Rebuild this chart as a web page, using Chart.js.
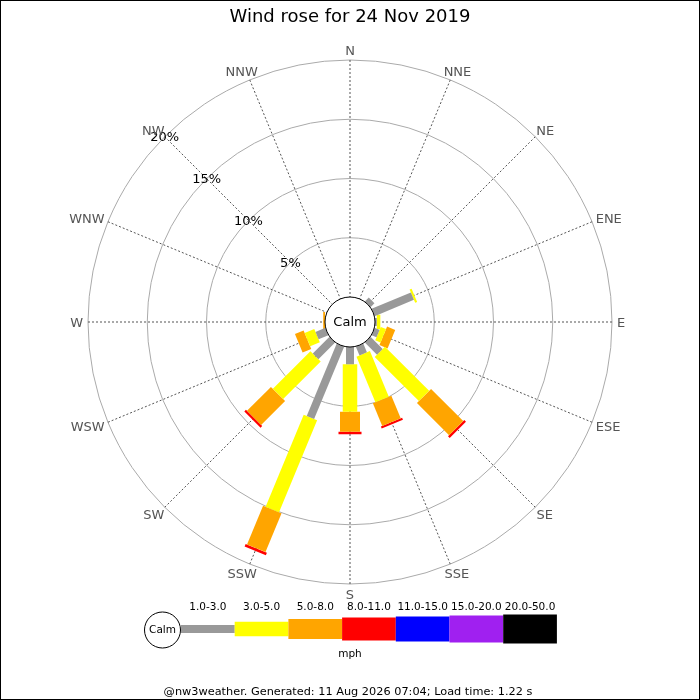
<!DOCTYPE html>
<html>
<head>
<meta charset="utf-8">
<script src="https://cdn.jsdelivr.net/npm/chart.js@4.4.1/dist/chart.umd.min.js"></script>
<style>
  html, body { margin: 0; padding: 0; background: #fff; }
  #wrap { width: 700px; height: 700px; }
</style>
</head>
<body>
<div id="wrap"><canvas id="roseChart" width="700" height="700"></canvas></div>
<script>
// directions clockwise from north
var directions = ['N','NNE','NE','ENE','E','ESE','SE','SSE','S','SSW','SW','WSW','W','WNW','NW','NNW'];
var speedBands = ['1.0-3.0','3.0-5.0','5.0-8.0','8.0-11.0','11.0-15.0','15.0-20.0','20.0-50.0'];

// % of time per direction, one array per speed band (mph)
var band1to3   = [0, 0, 0.47, 3.59, 0.15, 0.45, 1.45, 0.80, 1.46, 6.62, 2.00, 0.90, 0, 0, 0, 0];
var band3to5   = [0, 0, 0, 0.18, 0.30, 0.48, 5.27, 4.17, 4.00, 8.40, 4.48, 0.88, 0, 0, 0, 0];
var band5to8   = [0, 0, 0, 0, 0, 0.74, 3.84, 2.07, 1.69, 3.54, 2.86, 0.79, 0.15, 0, 0, 0];
var band8to11  = [0, 0, 0, 0, 0, 0, 0.20, 0.18, 0.21, 0.23, 0.19, 0, 0, 0, 0, 0];
var band11to15 = [0, 0, 0, 0, 0, 0, 0, 0, 0, 0, 0, 0, 0, 0, 0, 0];
var band15to20 = [0, 0, 0, 0, 0, 0, 0, 0, 0, 0, 0, 0, 0, 0, 0, 0];
var band20to50 = [0, 0, 0, 0, 0, 0, 0, 0, 0, 0, 0, 0, 0, 0, 0, 0];

var ringTicks  = [5, 10, 15, 20];
var ringLabels = ['5%', '10%', '15%', '20%'];

var bands      = [band1to3, band3to5, band5to8, band8to11, band11to15, band15to20, band20to50];
var bandColors = ['#999999', '#ffff00', '#ffa500', '#ff0000', '#0000ff', '#a020f0', '#000000'];
var bandWidths = [8, 14.5, 20, 23, 25, 27, 29];

var FONT = '"DejaVu Sans", sans-serif';
var HOLE = 25 / 11.85;          // calm circle, in % units
var RMAX = ringTicks[ringTicks.length - 1] + HOLE;

function polar(r, i) {
  var a = i * Math.PI / 8;
  return { x: r * Math.sin(a), y: r * Math.cos(a) };
}

var datasets = [];
var base = directions.map(function() { return HOLE; });
bands.forEach(function(vals, b) {
  vals.forEach(function(v, i) {
    if (v <= 0) return;
    var r0 = base[i], r1 = base[i] + v;
    base[i] = r1;
    datasets.push({
      label: speedBands[b] + ' ' + directions[i],
      data: [polar(r0, i), polar(r1, i)],
      showLine: true,
      borderColor: bandColors[b],
      borderWidth: bandWidths[b],
      borderCapStyle: 'butt',
      pointRadius: 0,
      pointHoverRadius: 0,
      tension: 0,
      clip: false
    });
  });
});

var roseGrid = {
  id: 'roseGrid',
  beforeDatasetsDraw: function(chart) {
    var ctx = chart.ctx, xs = chart.scales.x, ys = chart.scales.y;
    var cx = xs.getPixelForValue(0), cy = ys.getPixelForValue(0);
    var k = xs.getPixelForValue(1) - cx;
    ctx.save();
    ctx.strokeStyle = '#aaaaaa';
    ctx.lineWidth = 1;
    ringTicks.forEach(function(t) {
      ctx.beginPath();
      ctx.arc(cx, cy, (t + HOLE) * k, 0, Math.PI * 2);
      ctx.stroke();
    });
    ctx.strokeStyle = '#555555';
    ctx.setLineDash([2, 2]);
    directions.forEach(function(d, i) {
      var p = polar(RMAX, i);
      ctx.beginPath();
      ctx.moveTo(cx, cy);
      ctx.lineTo(xs.getPixelForValue(p.x), ys.getPixelForValue(p.y));
      ctx.stroke();
    });
    ctx.restore();
  },
  afterDatasetsDraw: function(chart) {
    var ctx = chart.ctx, xs = chart.scales.x, ys = chart.scales.y;
    var cx = xs.getPixelForValue(0), cy = ys.getPixelForValue(0);
    var k = xs.getPixelForValue(1) - cx;
    ctx.save();
    // calm circle
    ctx.beginPath();
    ctx.arc(cx, cy, HOLE * k, 0, Math.PI * 2);
    ctx.fillStyle = '#fff';
    ctx.fill();
    ctx.strokeStyle = '#000';
    ctx.lineWidth = 1;
    ctx.stroke();
    ctx.fillStyle = '#000';
    ctx.font = '13px ' + FONT;
    ctx.textAlign = 'center';
    ctx.textBaseline = 'middle';
    ctx.fillText('Calm', cx, cy + 1);

    // ring labels along NW
    ringTicks.forEach(function(t, j) {
      var p = polar(t + HOLE, 14);
      ctx.fillText(ringLabels[j], xs.getPixelForValue(p.x), ys.getPixelForValue(p.y) + 1);
    });

    // compass labels
    ctx.fillStyle = '#555555';
    directions.forEach(function(d, i) {
      var a = i * Math.PI / 8;
      var p = polar(RMAX, i);
      var px = xs.getPixelForValue(p.x) + 5 * Math.sin(a);
      var py = ys.getPixelForValue(p.y) - 5 * Math.cos(a);
      var w = ctx.measureText(d).width;
      ctx.fillText(d, px + Math.sin(a) * w / 2, py - Math.cos(a) * 5 + 1.5);
    });

    // title
    ctx.fillStyle = '#000';
    ctx.font = '18px ' + FONT;
    ctx.fillText('Wind rose for 24 Nov 2019', 350, 17.5);

    // legend
    var lx = 181, lw = 53.7, ly = 629;
    bandColors.forEach(function(c, b) {
      var h = bandWidths[b];
      ctx.fillStyle = c;
      ctx.fillRect(lx + b * lw, ly - h / 2, lw, h);
      ctx.fillStyle = '#000';
      ctx.font = '10.5px ' + FONT;
      ctx.fillText(speedBands[b], lx + b * lw + lw / 2, 607);
    });
    ctx.beginPath();
    ctx.arc(162.5, 630, 18, 0, Math.PI * 2);
    ctx.fillStyle = '#fff';
    ctx.fill();
    ctx.strokeStyle = '#000';
    ctx.stroke();
    ctx.fillStyle = '#000';
    ctx.font = '10.5px ' + FONT;
    ctx.fillText('Calm', 162.5, 630);
    ctx.fillText('mph', 350, 654);

    ctx.font = '11.3px ' + FONT;
    ctx.fillText('@nw3weather. Generated: 11 Aug 2026 07:04; Load time: 1.22 s', 348, 692);

    // frame
    ctx.strokeStyle = '#000';
    ctx.strokeRect(0.5, 0.5, 699, 699);
    ctx.restore();
  }
};

var ctx = document.getElementById('roseChart');
var roseChart = new Chart(ctx, {
  type: 'scatter',
  data: { datasets: datasets },
  options: {
    responsive: false,
    animation: false,
    devicePixelRatio: 1,
    layout: { padding: { left: 88, right: 88, top: 60, bottom: 116 } },
    scales: {
      x: { type: 'linear', min: -RMAX, max: RMAX, display: false },
      y: { type: 'linear', min: -RMAX, max: RMAX, display: false }
    },
    plugins: {
      legend: { display: false },
      title: { display: false },
      tooltip: { enabled: false }
    }
  },
  plugins: [roseGrid]
});
</script>
</body>
</html>
